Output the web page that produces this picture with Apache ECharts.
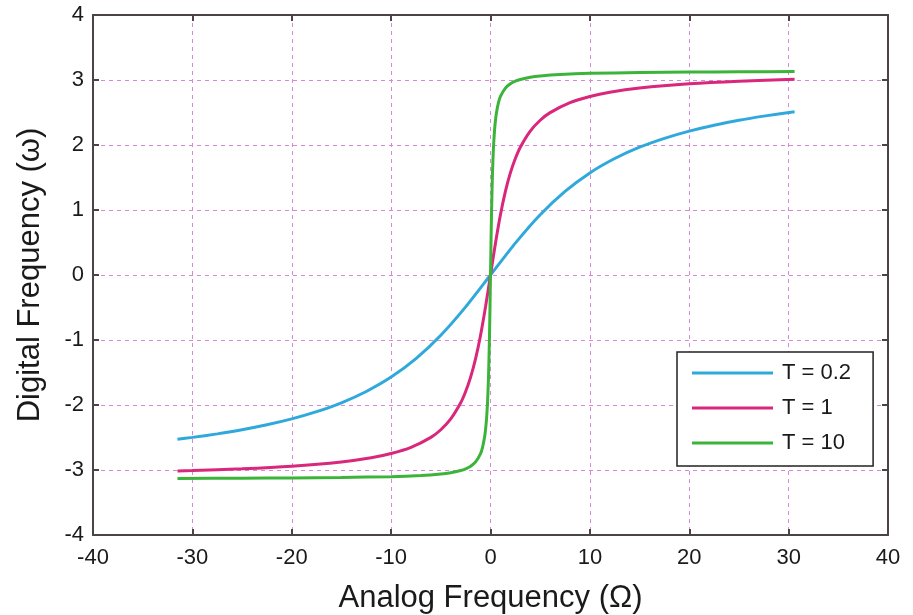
<!DOCTYPE html>
<html>
<head>
<meta charset="utf-8">
<script src="https://cdn.jsdelivr.net/npm/echarts@6/dist/echarts.min.js"></script>
<style>
  html, body { margin: 0; padding: 0; background: #fff; }
  #chart { width: 913px; height: 615px; }
</style>
</head>
<body>
<div id="chart"></div>
<script>
// values: [analog frequency, digital frequency]
const seriesNames = ["T = 0.2", "T = 1", "T = 10"];
const seriesColors = ["#2fa9dc", "#d9277c", "#3cb43a"];

const t02 = [
  [-31.5, -2.527], [-30, -2.498], [-27.5, -2.444], [-25, -2.381], [-22.5, -2.305],
  [-20, -2.214], [-17.5, -2.103], [-15, -1.966], [-12.5, -1.792], [-10, -1.571],
  [-7.5, -1.287], [-5, -0.927], [-2.5, -0.49], [0, 0], [2.5, 0.49], [5, 0.927],
  [7.5, 1.287], [10, 1.571], [12.5, 1.792], [15, 1.966], [17.5, 2.103], [20, 2.214],
  [22.5, 2.305], [25, 2.381], [27.5, 2.444], [30.6, 2.512]
];

const t1 = [
  [-31.5, -3.015], [-30, -3.008], [-25, -2.982], [-20, -2.942], [-15, -2.876],
  [-12, -2.812], [-10, -2.747], [-8, -2.652], [-6, -2.498], [-5, -2.381], [-4, -2.214],
  [-3, -1.966], [-2.5, -1.792], [-2, -1.571], [-1.5, -1.287], [-1, -0.927], [-0.5, -0.49],
  [0, 0], [0.5, 0.49], [1, 0.927], [1.5, 1.287], [2, 1.571], [2.5, 1.792], [3, 1.966],
  [4, 2.214], [5, 2.381], [6, 2.498], [8, 2.652], [10, 2.747], [12, 2.812], [15, 2.876],
  [20, 2.942], [25, 2.982], [30.6, 3.011]
];

const t10 = [
  [-31.5, -3.129], [-25, -3.126], [-20, -3.122], [-15, -3.115], [-10, -3.102],
  [-7, -3.085], [-5, -3.062], [-4, -3.042], [-3, -3.008], [-2.5, -2.982], [-2, -2.942],
  [-1.5, -2.876], [-1, -2.747], [-0.8, -2.652], [-0.6, -2.498], [-0.5, -2.381],
  [-0.4, -2.214], [-0.3, -1.966], [-0.2, -1.571], [-0.1, -0.927], [-0.05, -0.49], [0, 0],
  [0.05, 0.49], [0.1, 0.927], [0.2, 1.571], [0.3, 1.966], [0.4, 2.214], [0.5, 2.381],
  [0.6, 2.498], [0.8, 2.652], [1, 2.747], [1.5, 2.876], [2, 2.942], [2.5, 2.982],
  [3, 3.008], [4, 3.042], [5, 3.062], [7, 3.085], [10, 3.102], [15, 3.115], [20, 3.122],
  [25, 3.126], [30.6, 3.129]
];

const chart = echarts.init(document.getElementById("chart"));

const font = "'Liberation Sans', Arial, sans-serif";
const axisColor = "#4a4444";
const gridLine = { show: true, lineStyle: { color: "#d68ad6", type: [4, 4], width: 1 } };

chart.setOption({
  backgroundColor: "#fff",
  animation: false,
  textStyle: { fontFamily: font },
  grid: { left: 93, right: 25, top: 15, bottom: 80, outerBoundsMode: "none" },
  legend: {
    orient: "vertical",
    left: 677,
    top: 352,
    padding: [10, 22, 12, 15],
    itemGap: 13,
    itemWidth: 81,
    itemHeight: 3,
    icon: "rect",
    borderColor: "#222",
    borderWidth: 1.5,
    backgroundColor: "#fff",
    textStyle: { fontSize: 22, color: "#1a1a1a", fontFamily: font, padding: [0, 0, 0, 4] },
    data: seriesNames
  },
  xAxis: [
    {
      type: "value",
      min: -40,
      max: 40,
      interval: 10,
      name: "Analog Frequency (Ω)",
      nameLocation: "middle",
      nameGap: 48,
      nameTextStyle: { fontSize: 31, color: "#1a1a1a" },
      axisLine: { onZero: false, lineStyle: { color: axisColor, width: 2 } },
      axisTick: { inside: true, length: 6, lineStyle: { color: axisColor, width: 2 } },
      axisLabel: { fontSize: 22, color: "#1a1a1a", margin: 12 },
      splitLine: gridLine
    },
    {
      type: "value",
      position: "top",
      min: -40,
      max: 40,
      interval: 10,
      axisLine: { onZero: false, lineStyle: { color: axisColor, width: 2 } },
      axisTick: { inside: true, length: 6, lineStyle: { color: axisColor, width: 2 } },
      axisLabel: { show: false },
      splitLine: { show: false }
    }
  ],
  yAxis: [
    {
      type: "value",
      min: -4,
      max: 4,
      interval: 1,
      name: "Digital Frequency (ω)",
      nameLocation: "middle",
      nameGap: 47,
      nameTextStyle: { fontSize: 31, color: "#1a1a1a" },
      axisLine: { onZero: false, lineStyle: { color: axisColor, width: 2 } },
      axisTick: { inside: true, length: 6, lineStyle: { color: axisColor, width: 2 } },
      axisLabel: { fontSize: 22, color: "#1a1a1a", margin: 9 },
      splitLine: gridLine
    },
    {
      type: "value",
      position: "right",
      min: -4,
      max: 4,
      interval: 1,
      axisLine: { onZero: false, lineStyle: { color: axisColor, width: 2 } },
      axisTick: { inside: true, length: 6, lineStyle: { color: axisColor, width: 2 } },
      axisLabel: { show: false },
      splitLine: { show: false }
    }
  ],
  series: [t02, t1, t10].map((data, i) => ({
    name: seriesNames[i],
    type: "line",
    data: data,
    smooth: 0.2,
    showSymbol: false,
    color: seriesColors[i],
    lineStyle: { width: 3, color: seriesColors[i] }
  }))
});
</script>
</body>
</html>
